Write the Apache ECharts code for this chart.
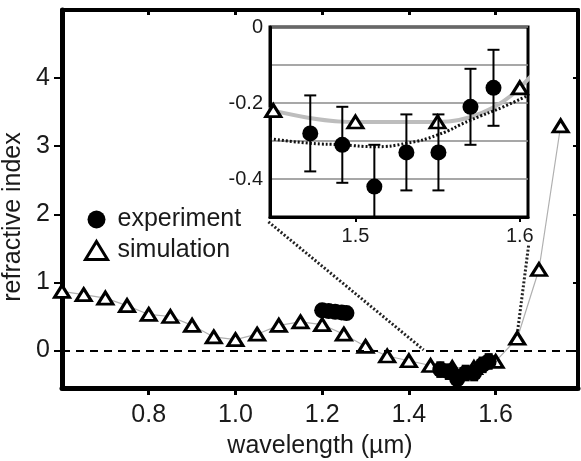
<!DOCTYPE html>
<html>
<head>
<meta charset="utf-8">
<script src="https://cdn.jsdelivr.net/npm/echarts@6/dist/echarts.min.js"></script>
<style>
  html, body { margin: 0; padding: 0; background: #fff; }
  #chart { width: 581px; height: 461px; }
</style>
</head>
<body>
<div id="chart"></div>
<script>
// simulation (open triangles)
const simX = [0.60, 0.65, 0.70, 0.75, 0.80, 0.85, 0.90, 0.95, 1.00, 1.05, 1.10, 1.15,
              1.20, 1.25, 1.30, 1.35, 1.40, 1.45, 1.50, 1.55, 1.60, 1.65, 1.70, 1.75];
const simY = [0.87, 0.82, 0.77, 0.66, 0.53, 0.50, 0.37, 0.20, 0.16, 0.24, 0.37, 0.42,
              0.38, 0.24, 0.06, -0.08, -0.15, -0.22, -0.25, -0.25, -0.16, 0.18, 1.19, 3.30];

// experiment (filled circles) with error
const expX = [1.200, 1.215, 1.230, 1.245, 1.256, 1.4725, 1.492, 1.5115, 1.531, 1.5505, 1.570, 1.584];
const expY = [0.59, 0.58, 0.57, 0.56, 0.55, -0.28, -0.31, -0.42, -0.33, -0.33, -0.21, -0.16];
const expErr = [0, 0, 0, 0, 0, 0.10, 0.10, 0.11, 0.10, 0.10, 0.10, 0.10];

// dotted curve in the inset
const fitX = [1.448, 1.4725, 1.492, 1.5115, 1.531, 1.55, 1.57, 1.59, 1.605];
const fitY = [-0.294, -0.306, -0.31, -0.315, -0.306, -0.284, -0.245, -0.21, -0.18];

// tick labels
const mainXTicks = [0.8, 1.0, 1.2, 1.4, 1.6];
const mainYTicks = [0, 1, 2, 3, 4];
const insetXTicks = [1.5, 1.6];

// zoom connector lines (main chart data coords)
const zoomLeft = [[1.076, 1.89], [1.434, 0.01]];
const zoomRight = [[1.676, 1.54], [1.649, 0.20]];

const simData = simX.map((x, i) => [x, simY[i]]);
const expData = expX.map((x, i) => [x, expY[i], expErr[i]]);
const fitData = fitX.map((x, i) => [x, fitY[i]]);

const FONT = "'Liberation Sans', Arial, sans-serif";
const TXT = '#1a1a1a';

function errorBars(capHalf, lw) {
  return function (params, api) {
    const e = api.value(2);
    if (!e) return null;
    const x = api.value(0), y = api.value(1);
    const cs = params.coordSys;
    const p = api.coord([x, y]);
    let top = api.coord([x, y + e])[1];
    let bot = api.coord([x, y - e])[1];
    if (p[0] < cs.x || p[0] > cs.x + cs.width) return null;
    const topIn = top >= cs.y, botIn = bot <= cs.y + cs.height;
    top = Math.max(top, cs.y);
    bot = Math.min(bot, cs.y + cs.height);
    const style = { stroke: '#000', lineWidth: lw };
    const children = [{ type: 'line', shape: { x1: p[0], y1: top, x2: p[0], y2: bot }, style }];
    if (topIn) children.push({ type: 'line', shape: { x1: p[0] - capHalf, y1: top, x2: p[0] + capHalf, y2: top }, style });
    if (botIn) children.push({ type: 'line', shape: { x1: p[0] - capHalf, y1: bot, x2: p[0] + capHalf, y2: bot }, style });
    return { type: 'group', children };
  };
}

const chart = echarts.init(document.getElementById('chart'));
chart.setOption({
  backgroundColor: '#fff',
  animation: false,
  textStyle: { fontFamily: FONT, color: TXT },
  legend: {
    data: [
      { name: 'experiment', icon: 'circle', itemStyle: { color: '#000', borderWidth: 0 } },
      { name: 'simulation', icon: 'triangle', itemStyle: { color: '#fff', borderColor: '#000', borderWidth: 3 } }
    ],
    orient: 'vertical',
    left: 79, top: 202,
    itemWidth: 22, itemHeight: 18, itemGap: 6,
    itemStyle: { borderWidth: 3, borderColor: '#000' },
    textStyle: { fontSize: 25, color: TXT, fontFamily: FONT, padding: [0, 0, 0, 5] }
  },
  grid: [
    { left: 62, right: 3, top: 10, bottom: 73, outerBoundsMode: 'none' },
    { left: 270, right: 53, top: 27, bottom: 244, outerBoundsMode: 'none',
      show: true, backgroundColor: '#fff', borderColor: '#000', borderWidth: 3, z: 5 }
  ],
  xAxis: [
    {
      type: 'value', gridIndex: 0, min: 0.6, max: 1.79, position: 'bottom',
      name: 'wavelength (µm)', nameLocation: 'middle', nameGap: 46,
      nameTextStyle: { fontSize: 25, color: TXT, fontFamily: FONT },
      axisLine: { show: true, onZero: false, lineStyle: { color: '#000', width: 5 } },
      axisTick: { show: true, customValues: mainXTicks, length: 7, lineStyle: { color: '#000', width: 3 } },
      axisLabel: { customValues: mainXTicks, formatter: v => v.toFixed(1), fontSize: 25, color: TXT, margin: 15 },
      splitLine: { show: false }
    },
    {
      type: 'value', gridIndex: 0, min: 0.6, max: 1.79, position: 'top',
      axisLine: { show: true, onZero: false, lineStyle: { color: '#000', width: 4 } },
      axisTick: { show: true, inside: true, customValues: mainXTicks, length: 5, lineStyle: { color: '#000', width: 3 } },
      axisLabel: { show: false },
      splitLine: { show: false }
    },
    {
      type: 'value', gridIndex: 1, min: 1.448, max: 1.605,
      axisLine: { show: true, onZero: false, lineStyle: { color: '#000', width: 3 } },
      axisTick: { show: true, customValues: insetXTicks, length: 5, lineStyle: { color: '#000', width: 2 } },
      axisLabel: { customValues: insetXTicks, formatter: v => v.toFixed(1), fontSize: 20, color: TXT, margin: 9 },
      splitLine: { show: false },
      z: 6
    }
  ],
  yAxis: [
    {
      type: 'value', gridIndex: 0, min: -0.55, max: 5, position: 'left',
      name: 'refractive index', nameLocation: 'middle', nameGap: 31,
      nameTextStyle: { fontSize: 25, color: TXT, fontFamily: FONT, padding: [0, 36, 0, 0] },
      axisLine: { show: true, onZero: false, lineStyle: { color: '#000', width: 5 } },
      axisTick: { show: true, customValues: mainYTicks, length: 8, lineStyle: { color: '#000', width: 2 } },
      axisLabel: { customValues: mainYTicks, formatter: v => String(v), fontSize: 25, color: TXT, margin: 12 },
      splitLine: { show: false }
    },
    {
      type: 'value', gridIndex: 0, min: -0.55, max: 5, position: 'right',
      axisLine: { show: true, onZero: false, lineStyle: { color: '#000', width: 4 } },
      axisTick: { show: true, inside: true, customValues: mainYTicks, length: 5, lineStyle: { color: '#000', width: 2 } },
      axisLabel: { show: false },
      splitLine: { show: false }
    },
    {
      type: 'value', gridIndex: 1, min: -0.5, max: 0, interval: 0.1,
      axisLine: { show: true, onZero: false, lineStyle: { color: '#000', width: 3 } },
      axisTick: { show: false },
      axisLabel: {
        fontSize: 20, color: TXT, margin: 7,
        formatter: v => {
          const k = Math.round(v * 10);
          if (k % 2 !== 0) return '';
          return k === 0 ? '0' : (k / 10).toFixed(1);
        }
      },
      splitLine: { show: true, lineStyle: { color: '#8a8a8a', width: 1.5 } },
      z: 6
    }
  ],
  series: [
    {
      name: 'simline', type: 'line', xAxisIndex: 0, yAxisIndex: 0, data: simData,
      symbol: 'none', silent: true, z: 1,
      lineStyle: { color: '#b0b0b0', width: 1.2 },
      markLine: {
        silent: true, symbol: 'none', label: { show: false },
        lineStyle: { color: '#000', width: 2, type: [8, 6] },
        data: [{ yAxis: 0 }]
      }
    },
    {
      name: 'zoomL', type: 'line', xAxisIndex: 0, yAxisIndex: 0, data: zoomLeft,
      symbol: 'none', silent: true, z: 2,
      lineStyle: { color: '#222', width: 3, type: [2, 2] }
    },
    {
      name: 'zoomR', type: 'line', xAxisIndex: 0, yAxisIndex: 0, data: zoomRight,
      symbol: 'none', silent: true, z: 2,
      lineStyle: { color: '#222', width: 3, type: [2, 2] }
    },
    {
      name: 'simulation', type: 'scatter', xAxisIndex: 0, yAxisIndex: 0, data: simData,
      symbol: 'triangle', symbolSize: [15, 12], z: 3,
      itemStyle: { color: '#fff', borderColor: '#000', borderWidth: 3, opacity: 1 }
    },
    {
      name: 'experiment-err', type: 'custom', xAxisIndex: 0, yAxisIndex: 0, data: expData,
      encode: { x: 0, y: 1 }, renderItem: errorBars(4, 3), z: 4
    },
    {
      name: 'experiment', type: 'scatter', xAxisIndex: 0, yAxisIndex: 0, data: expData,
      symbol: 'circle', symbolSize: 16, z: 5,
      itemStyle: { color: '#000', opacity: 1 }
    },
    // inset
    {
      name: 'inset-sim-curve', type: 'line', xAxisIndex: 2, yAxisIndex: 2, data: simData,
      symbol: 'none', smooth: 0.35, clip: true, silent: true, z: 7,
      lineStyle: { color: '#bdbdbd', width: 4 }
    },
    {
      name: 'inset-fit', type: 'line', xAxisIndex: 2, yAxisIndex: 2, data: fitData,
      symbol: 'none', smooth: true, clip: true, silent: true, z: 8,
      lineStyle: { color: '#111', width: 3, type: [2, 2] }
    },
    {
      name: 'inset-sim', type: 'scatter', xAxisIndex: 2, yAxisIndex: 2, data: simData,
      symbol: 'triangle', symbolSize: [15, 12], clip: true, z: 9,
      itemStyle: { color: '#fff', borderColor: '#000', borderWidth: 3, opacity: 1 }
    },
    {
      name: 'inset-err', type: 'custom', xAxisIndex: 2, yAxisIndex: 2, data: expData,
      encode: { x: 0, y: 1 }, renderItem: errorBars(6, 2), z: 10
    },
    {
      name: 'inset-exp', type: 'scatter', xAxisIndex: 2, yAxisIndex: 2, data: expData,
      symbol: 'circle', symbolSize: 16, clip: true, z: 11,
      itemStyle: { color: '#000', opacity: 1 }
    }
  ]
});
</script>
</body>
</html>
